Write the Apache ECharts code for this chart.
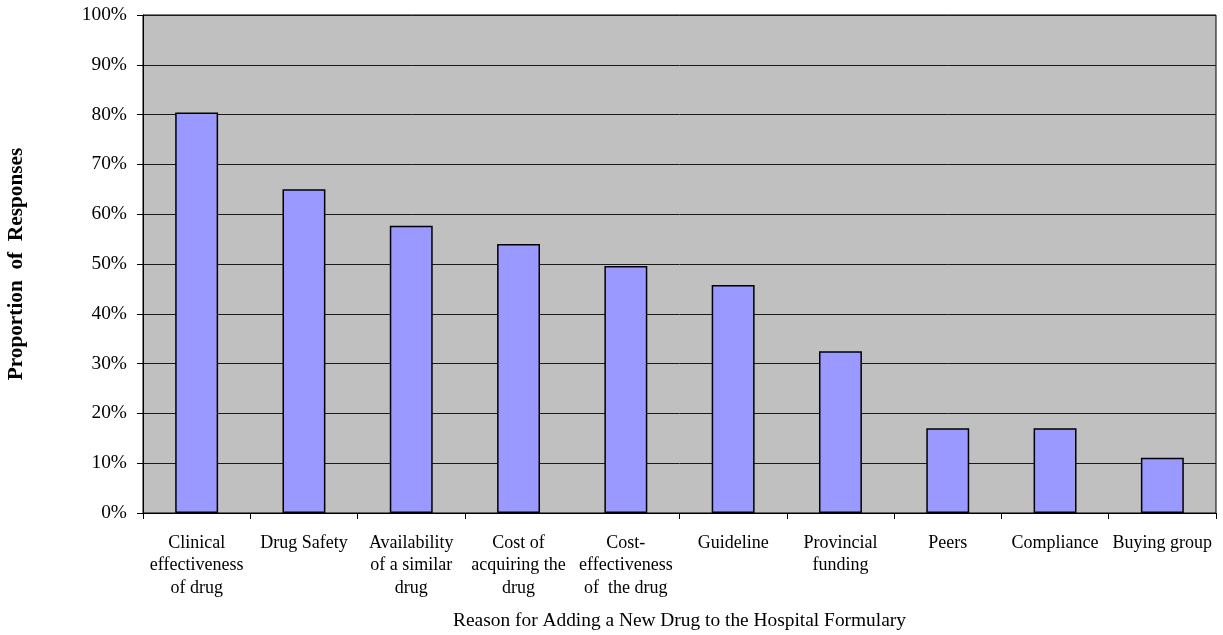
<!DOCTYPE html>
<html>
<head>
<meta charset="utf-8">
<script src="https://cdn.jsdelivr.net/npm/echarts@6/dist/echarts.min.js"></script>
<style>
  html, body { margin: 0; padding: 0; background: #ffffff; }
  #chart { width: 1223px; height: 635px; }
</style>
</head>
<body>
<div id="chart"></div>
<script>
// Reasons for adding a new drug to the hospital formulary (share of responses, %)
const categories = [
  'Clinical\neffectiveness\nof drug',
  'Drug Safety',
  'Availability\nof a similar\ndrug',
  'Cost of\nacquiring the\ndrug',
  'Cost-\neffectiveness\nof  the drug',
  'Guideline',
  'Provincial\nfunding',
  'Peers',
  'Compliance',
  'Buying group'
];
const responseShare = [80.4, 65.0, 57.7, 54.0, 49.6, 45.8, 32.5, 17.0, 17.0, 11.1];

const yMin = 0, yMax = 100, yStep = 10;
const yTitle = 'Proportion  of  Responses';
const xTitle = 'Reason for Adding a New Drug to the Hospital Formulary';

const serif = '"Liberation Serif", "Times New Roman", serif';

const chart = echarts.init(document.getElementById('chart'), null, { renderer: 'canvas' });
chart.setOption({
  animation: false,
  backgroundColor: '#ffffff',
  textStyle: { fontFamily: serif, color: '#000' },
  grid: {
    left: 143, right: 7, top: 15, bottom: 122,
    outerBoundsMode: 'none',
    containLabel: false,
    show: true, backgroundColor: '#c0c0c0', borderColor: '#000', borderWidth: 1
  },
  xAxis: {
    type: 'category',
    data: categories,
    boundaryGap: true,
    name: xTitle,
    nameLocation: 'middle',
    nameGap: 98,
    nameTextStyle: { fontFamily: serif, fontSize: 19.4, color: '#000' },
    axisLine: { show: true, lineStyle: { color: '#000', width: 1 } },
    axisTick: {
      show: true, length: 6, inside: false,
      alignWithLabel: false,
      interval: function (index) { return index !== 4; },
      lineStyle: { color: '#000', width: 1 }
    },
    axisLabel: {
      interval: 0, margin: 19,
      fontFamily: serif, fontSize: 18, lineHeight: 22.5, color: '#000', align: 'center'
    },
    splitLine: { show: false }
  },
  yAxis: {
    type: 'value',
    min: yMin, max: yMax, interval: yStep,
    name: yTitle,
    nameLocation: 'middle',
    nameGap: 116,
    nameRotate: 90,
    nameTextStyle: { fontFamily: serif, fontSize: 21.3, fontWeight: 'bold', color: '#000' },
    axisLine: { show: true, lineStyle: { color: '#000', width: 1 } },
    axisTick: { show: true, length: 6, lineStyle: { color: '#000', width: 1 } },
    axisLabel: {
      margin: 16, formatter: '{value}%',
      fontFamily: serif, fontSize: 19.4, color: '#000'
    },
    splitLine: { show: true, lineStyle: { color: '#1a1a1a', width: 1 } }
  },
  series: [{
    type: 'bar',
    data: responseShare,
    barWidth: '40%',
    itemStyle: { color: '#9999ff', borderColor: '#000', borderWidth: 1.5 },
    emphasis: { disabled: true }
  }]
});
</script>
</body>
</html>
